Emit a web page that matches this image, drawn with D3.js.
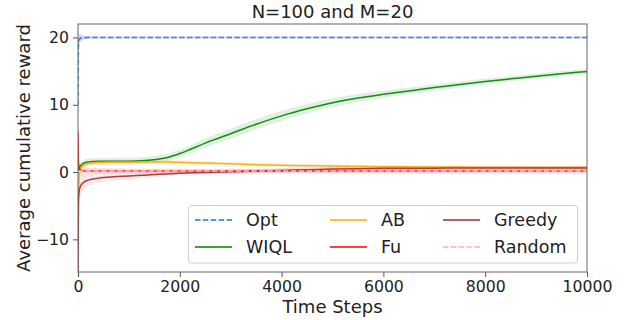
<!DOCTYPE html>
<html>
<head>
<meta charset="utf-8">
<script src="https://cdn.jsdelivr.net/npm/d3@7"></script>
<style>
  html, body { margin: 0; padding: 0; background: #fff; }
  svg { display: block; font-family: "DejaVu Sans", sans-serif; }
</style>
</head>
<body>
<svg id="chart" width="629" height="320"></svg>
<script>
// ---- data ----
const timeSteps = [0, 10, 25, 50, 100, 200, 400, 700, 1000, 1300, 1600, 1800, 2000, 2200, 2500, 3000, 3500, 4000, 4500, 5000, 5500, 6000, 6500, 7000, 7500, 8000, 8500, 9000, 9500, 10000];

const optValues    = [10, 19.4, 19.7, 19.9, 19.95, 20.0, 20.0, 20.0, 20.0, 20.0, 20.0, 20.0, 20.0, 20.0, 20.0, 20.0, 20.0, 20.0, 20.0, 20.0, 20.0, 20.0, 20.0, 20.0, 20.0, 20.0, 20.0, 20.0, 20.0, 20.0];
const optBand      = [3, 1.2, 0.9, 0.6, 0.35, 0.2, 0.15, 0.15, 0.15, 0.15, 0.15, 0.15, 0.15, 0.15, 0.15, 0.15, 0.15, 0.15, 0.15, 0.15, 0.15, 0.15, 0.15, 0.15, 0.15, 0.15, 0.15, 0.15, 0.15, 0.15];

const wiqlValues   = [0, 0.4, 0.7, 0.9, 1.3, 1.5, 1.6, 1.6, 1.62, 1.72, 1.95, 2.25, 2.75, 3.35, 4.3, 5.7, 7.1, 8.35, 9.4, 10.3, 11.0, 11.55, 12.05, 12.55, 13.0, 13.45, 13.85, 14.25, 14.6, 14.95];
const wiqlBand     = [1, 0.8, 0.6, 0.5, 0.5, 0.5, 0.5, 0.5, 0.5, 0.5, 0.52, 0.55, 0.6, 0.65, 0.7, 0.75, 0.75, 0.75, 0.7, 0.65, 0.6, 0.55, 0.5, 0.5, 0.45, 0.45, 0.4, 0.4, 0.4, 0.4];

const abValues     = [-8, -3, -0.5, 0.5, 1.0, 1.3, 1.45, 1.5, 1.5, 1.5, 1.49, 1.48, 1.45, 1.4, 1.35, 1.22, 1.1, 1.0, 0.95, 0.9, 0.85, 0.8, 0.78, 0.76, 0.74, 0.72, 0.71, 0.7, 0.7, 0.7];
const abBand       = [3, 1.5, 1.0, 0.6, 0.4, 0.35, 0.3, 0.3, 0.3, 0.3, 0.3, 0.3, 0.3, 0.3, 0.3, 0.3, 0.3, 0.25, 0.25, 0.25, 0.25, 0.25, 0.25, 0.25, 0.25, 0.25, 0.25, 0.25, 0.25, 0.25];

const fuValues     = [6, 1.5, 0.5, 0.3, 0.2, 0.15, 0.15, 0.15, 0.15, 0.15, 0.15, 0.15, 0.15, 0.15, 0.15, 0.15, 0.15, 0.15, 0.15, 0.15, 0.15, 0.15, 0.15, 0.15, 0.15, 0.15, 0.15, 0.15, 0.15, 0.15];
const fuBand       = [3, 1.5, 1.0, 0.8, 0.6, 0.5, 0.45, 0.4, 0.35, 0.35, 0.35, 0.35, 0.35, 0.35, 0.35, 0.35, 0.35, 0.35, 0.35, 0.35, 0.35, 0.35, 0.35, 0.35, 0.35, 0.35, 0.35, 0.35, 0.35, 0.35];

const greedyValues = [-15, -4, -2.7, -2.1, -1.6, -1.2, -0.9, -0.7, -0.6, -0.47, -0.33, -0.25, -0.18, -0.12, -0.05, 0.05, 0.15, 0.25, 0.35, 0.45, 0.5, 0.55, 0.57, 0.58, 0.59, 0.6, 0.6, 0.61, 0.61, 0.62];
const greedyBand   = [5, 2.5, 1.8, 1.5, 1.2, 0.9, 0.7, 0.6, 0.5, 0.45, 0.4, 0.35, 0.3, 0.3, 0.3, 0.3, 0.3, 0.3, 0.3, 0.3, 0.3, 0.3, 0.3, 0.3, 0.3, 0.3, 0.3, 0.3, 0.3, 0.3];

const randomValues = [0, 0.1, 0.15, 0.15, 0.15, 0.15, 0.15, 0.15, 0.15, 0.15, 0.15, 0.15, 0.15, 0.15, 0.15, 0.15, 0.15, 0.15, 0.15, 0.15, 0.15, 0.15, 0.15, 0.15, 0.15, 0.15, 0.15, 0.15, 0.15, 0.15];
const randomBand   = [0.8, 0.5, 0.4, 0.3, 0.3, 0.3, 0.3, 0.3, 0.3, 0.3, 0.3, 0.3, 0.3, 0.3, 0.3, 0.3, 0.3, 0.3, 0.3, 0.3, 0.3, 0.3, 0.3, 0.3, 0.3, 0.3, 0.3, 0.3, 0.3, 0.3];

const xTicks = [0, 2000, 4000, 6000, 8000, 10000];
const yTicks = [-10, 0, 10, 20];
const seriesNames = ["Opt", "WIQL", "AB", "Fu", "Greedy", "Random"];
const titleText = "N=100 and M=20";
const xLabel = "Time Steps";
const yLabel = "Average cumulative reward";

// ---- drawing ----
const svg = d3.select("#chart");
const L = 78, R = 587, T = 24, B = 272;
const x = d3.scaleLinear().domain([0, 10000]).range([L, R]);
const y = d3.scaleLinear().domain([-14.85, 22]).range([B, T]);

const series = [
  {name: "Opt",    vals: optValues,    band: optBand,    color: "#1f77b4", bandColor: "#8080ff", bandOp: 0.3,  dash: "5.5,2.4", lw: 1.6, op: 0.85},
  {name: "WIQL",   vals: wiqlValues,   band: wiqlBand,   color: "#008000", bandColor: "#008000", bandOp: 0.12, dash: null, lw: 1.5, op: 0.9},
  {name: "AB",     vals: abValues,     band: abBand,     color: "#ffa500", bandColor: "#ffa500", bandOp: 0.15, dash: null, lw: 1.5, op: 0.9},
  {name: "Fu",     vals: fuValues,     band: fuBand,     color: "#ff0000", bandColor: "#ff0000", bandOp: 0.13, dash: null, lw: 1.5, op: 0.85},
  {name: "Greedy", vals: greedyValues, band: greedyBand, color: "#a52a2a", bandColor: "#a52a2a", bandOp: 0.1,  dash: null, lw: 1.5, op: 0.9},
  {name: "Random", vals: randomValues, band: randomBand, color: "#ffc0cb", bandColor: "#ffc0cb", bandOp: 0.3,  dash: "5.5,2.4", lw: 1.5, op: 1}
];

svg.append("defs").append("clipPath").attr("id", "plotclip")
  .append("rect").attr("x", L).attr("y", T).attr("width", R - L).attr("height", B - T);

const plot = svg.append("g").attr("clip-path", "url(#plotclip)");

const area = (s) => d3.area()
  .x((d, i) => x(timeSteps[i]))
  .y0((d, i) => y(s.vals[i] - s.band[i]))
  .y1((d, i) => y(s.vals[i] + s.band[i]))
  .curve(d3.curveMonotoneX);
const line = (s) => d3.line()
  .x((d, i) => x(timeSteps[i]))
  .y((d, i) => y(s.vals[i]))
  .curve(d3.curveMonotoneX);

series.forEach(s => {
  plot.append("path").datum(s.vals).attr("d", area(s))
    .attr("fill", s.bandColor).attr("fill-opacity", s.bandOp).attr("stroke", "none");
});
series.forEach(s => {
  plot.append("path").datum(s.vals).attr("d", line(s))
    .attr("fill", "none").attr("stroke", s.color).attr("stroke-width", s.lw)
    .attr("stroke-opacity", s.op)
    .attr("stroke-dasharray", s.dash);
});

// axes
const xAxis = d3.axisBottom(x).tickValues(xTicks).tickSize(5).tickPadding(4).tickFormat(d3.format("d"));
const yAxis = d3.axisLeft(y).tickValues(yTicks).tickSize(5).tickPadding(4)
  .tickFormat(d => d < 0 ? "\u2212" + Math.abs(d) : d);

const gx = svg.append("g").attr("transform", `translate(0,${B})`).call(xAxis);
const gy = svg.append("g").attr("transform", `translate(${L},0)`).call(yAxis);
[gx, gy].forEach(g => {
  g.select(".domain").remove();
  g.selectAll("line").attr("stroke", "#555");
  g.selectAll("text").attr("font-size", "15.7px").attr("fill", "#222")
    .attr("font-family", "DejaVu Sans, sans-serif");
});

// spines
svg.append("rect").attr("x", L).attr("y", T).attr("width", R - L).attr("height", B - T)
  .attr("fill", "none").attr("stroke", "#666").attr("stroke-width", 1);

// title & labels
svg.append("text").attr("x", (L + R) / 2).attr("y", 17.5).attr("text-anchor", "middle")
  .attr("font-size", "18px").attr("fill", "#222").text(titleText);
svg.append("text").attr("x", (L + R) / 2).attr("y", 313).attr("text-anchor", "middle")
  .attr("font-size", "18px").attr("fill", "#222").text(xLabel);
svg.append("text").attr("transform", `translate(30,${(T + B) / 2}) rotate(-90)`)
  .attr("text-anchor", "middle").attr("font-size", "18px").attr("fill", "#222").text(yLabel);

// legend
const lg = svg.append("g");
lg.append("rect").attr("x", 188.5).attr("y", 205.5).attr("width", 389).attr("height", 57.5)
  .attr("rx", 3).attr("fill", "#fff").attr("fill-opacity", 0.85)
  .attr("stroke", "#d0d0d0").attr("stroke-width", 1);
const colX = [195, 330, 443];
const rowY = [220, 247];
series.forEach((s, i) => {
  const cx = colX[Math.floor(i / 2)];
  const cy = rowY[i % 2];
  lg.append("line").attr("x1", cx).attr("x2", cx + 37).attr("y1", cy).attr("y2", cy)
    .attr("stroke", s.color).attr("stroke-width", 2).attr("stroke-opacity", s.name === "Random" ? 1 : 0.75)
    .attr("stroke-dasharray", s.dash);
  lg.append("text").attr("x", cx + 51).attr("y", cy + 6.3).attr("font-size", "17.5px")
    .attr("fill", "#222").text(seriesNames[i]);
});
</script>
</body>
</html>
